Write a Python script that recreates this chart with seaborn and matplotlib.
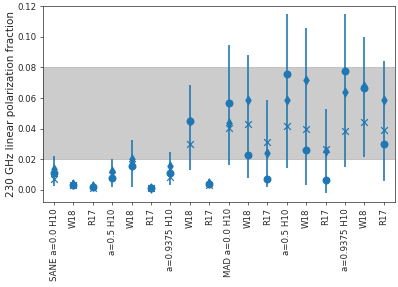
import matplotlib
matplotlib.use("Agg")
import matplotlib.pyplot as plt
import numpy as np
import pandas as pd
import seaborn as sns

labels = [
    "SANE a=0.0 H10", "W18", "R17",
    "a=0.5 H10", "W18", "R17",
    "a=0.9375 H10", "W18", "R17",
    "MAD a=0.0 H10", "W18", "R17",
    "a=0.5 H10", "W18", "R17",
    "a=0.9375 H10", "W18", "R17",
]

# values
circle_vals = [0.0112, 0.0033, 0.0022, 0.0081, 0.0153, 0.0011, 0.0109, 0.0452, 0.0037,
               0.0567, 0.0225, 0.0072, 0.0757, 0.0262, 0.0065, 0.0775, 0.0666, 0.0301]
diamond_vals = [0.0138, 0.0040, 0.0025, 0.0124, 0.0200, 0.0015, 0.0157, 0.0450, 0.0045,
                0.0437, 0.0589, 0.0244, 0.0585, 0.0714, 0.0257, 0.0642, 0.0680, 0.0589]
cross_vals = [0.0072, 0.0030, 0.0015, 0.0100, 0.0170, 0.0010, 0.0087, 0.0299, 0.0030,
              0.0404, 0.0430, 0.0312, 0.0415, 0.0400, 0.0266, 0.0382, 0.0441, 0.0393]
err_low = [0.0026, 0.0015, 0.0005, 0.0018, 0.0022, -0.0010, 0.0033, 0.0127, 0.0010,
           0.0164, 0.0077, 0.0022, 0.0142, 0.0033, -0.0018, 0.0149, 0.0214, 0.0061]
err_high = [0.0223, 0.0065, 0.0050, 0.0200, 0.0327, 0.0040, 0.0250, 0.0687, 0.0070,
            0.0943, 0.0877, 0.0589, 0.1146, 0.1054, 0.0530, 0.1146, 0.1000, 0.0840]

band_low, band_high = 0.02, 0.08

df = pd.DataFrame({
    "pos": np.arange(len(labels)),
    "circle": circle_vals,
    "diamond": diamond_vals,
    "cross": cross_vals,
    "lo": err_low,
    "hi": err_high,
})

sns.set_style("ticks")
plt.rcParams["font.family"] = ["DejaVu Sans"]

fig, ax = plt.subplots(figsize=(6.4, 4.615), dpi=62.2)
fig.subplots_adjust(left=0.108, right=0.992, top=0.979, bottom=0.296)

ax.axhspan(band_low, band_high, color="gray", alpha=0.4, zorder=0)

c = "#1f77b4"
ax.vlines(df["pos"], df["lo"], df["hi"], color=c, lw=2.2, alpha=0.85, zorder=2)
sns.scatterplot(data=df, x="pos", y="cross", marker="x", s=60, color=c,
                linewidth=1.4, ax=ax, zorder=3)
sns.scatterplot(data=df, x="pos", y="diamond", marker="d", s=80, color=c,
                linewidth=0, ax=ax, zorder=3)
sns.scatterplot(data=df, x="pos", y="circle", marker="o", s=85, color=c,
                linewidth=0, ax=ax, zorder=4)

ax.set_xlim(-0.57, 17.57)
ax.set_ylim(-0.0079, 0.12)
ax.set_yticks(np.arange(0, 0.121, 0.02))
ax.set_xticks(df["pos"])
ax.set_xticklabels(labels, rotation=90, fontsize=10)
ax.tick_params(axis="y", labelsize=10)
ax.set_xlabel("")
ax.set_ylabel("230 GHz linear polarization fraction", fontsize=12, labelpad=2)

fig.savefig("out.png", dpi=62.2)
